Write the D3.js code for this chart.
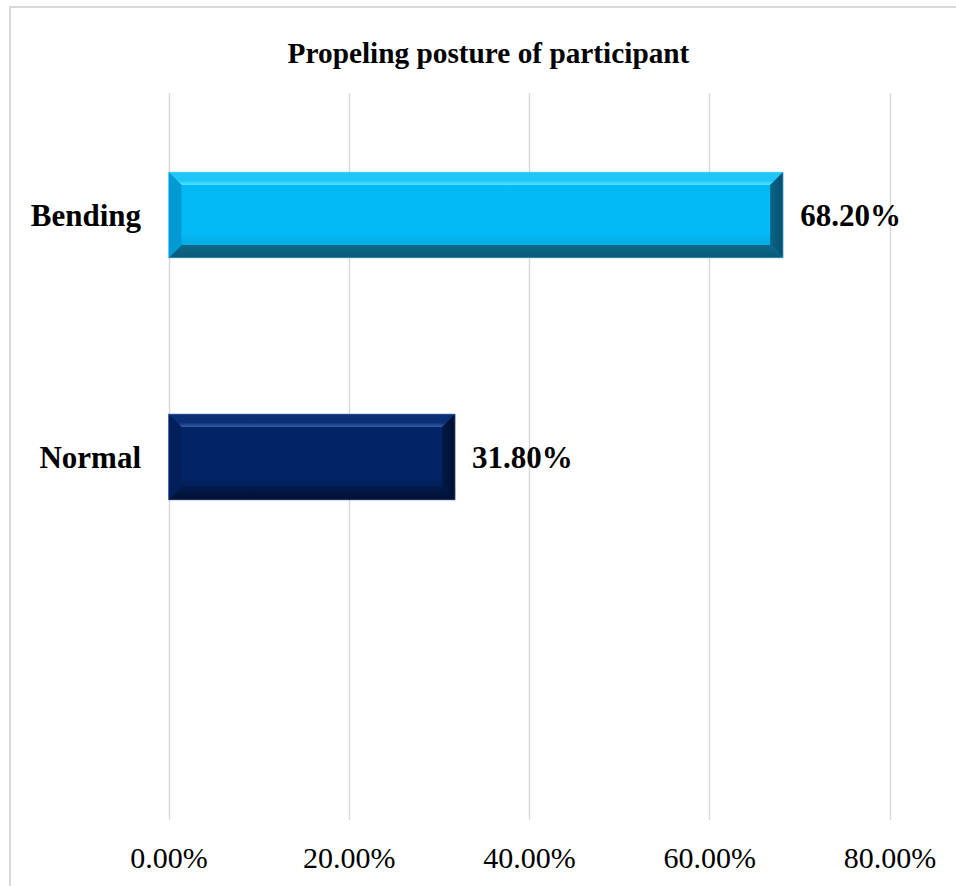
<!DOCTYPE html>
<html>
<head>
<meta charset="utf-8">
<script src="https://cdn.jsdelivr.net/npm/d3@7/dist/d3.min.js"></script>
<style>
  html, body { margin: 0; padding: 0; background: #ffffff; }
  svg { display: block; }
</style>
</head>
<body>
<script>
// Share of participants by propelling posture (percent)
const categories = ["Bending", "Normal", ""];
const values = [68.2, 31.8, null];
const tickValues = [0, 20, 40, 60, 80];
const title = "Propeling posture of participant";

// Bevel palettes per bar
const palettes = [
  { face: "#03b9f6", top: "#1fc5f7", hi: "#52e3ff", left: "#0399d2", bottom: "#0c6a8b", bottomDark: "#0a5878", right: "#0b6587", rightDark: "#094f6e", band: "#05a9e0", outline: "#7fdcff" },
  { face: "#022466", top: "#0b2f75", hi: "#3a5ea6", left: "#021f5c", bottom: "#021a4c", bottomDark: "#01112f", right: "#011a4a", rightDark: "#010e2c", band: "#021e58", outline: "#5f7fbf" }
];

const FONT = "'Liberation Serif', 'Times New Roman', serif";
const W = 956, H = 886;
const svg = d3.select("body").append("svg").attr("width", W).attr("height", H)
  .style("font-family", FONT);
const defs = svg.append("defs");

// chart frame (extends past the right and bottom edges)
svg.append("rect")
  .attr("x", 10).attr("y", 7)
  .attr("width", W + 20).attr("height", H + 20)
  .attr("fill", "none").attr("stroke", "#d9d9d9").attr("stroke-width", 2);

const plot = { left: 168.5, right: 889.5, top: 94, bottom: 820 };

const x = d3.scaleLinear().domain([0, 80]).range([plot.left, plot.right]);
const y = d3.scaleBand().domain(categories).range([plot.top, plot.bottom]).paddingInner(0.645).paddingOuter(0.3225);

// title
svg.append("text")
  .attr("x", 488.5).attr("y", 63)
  .attr("text-anchor", "middle")
  .style("font-family", FONT)
  .attr("font-weight", "bold").attr("font-size", 29.3)
  .attr("fill", "#000").text(title);

// vertical gridlines
svg.append("g").selectAll("line").data(tickValues).join("line")
  .attr("x1", d => Math.round(x(d)) + 0.5).attr("x2", d => Math.round(x(d)) + 0.5)
  .attr("y1", plot.top - 1).attr("y2", plot.bottom)
  .attr("stroke", "#d9d9d9").attr("stroke-width", 1.4);

// bottom axis labels
const xAxis = d3.axisBottom(x).tickValues(tickValues).tickSize(0).tickPadding(0)
  .tickFormat(d => d.toFixed(2) + "%");
const gx = svg.append("g").attr("transform", `translate(0,${plot.bottom})`).call(xAxis)
  .attr("font-family", null);
gx.select(".domain").remove();
gx.selectAll("text")
  .attr("y", 48).attr("dy", null)
  .style("font-family", FONT)
  .attr("font-size", 30).attr("fill", "#000");

// category labels
svg.append("g").selectAll("text").data(categories.filter(c => c !== "")).join("text")
  .attr("x", 141).attr("y", d => y(d) + y.bandwidth() / 2)
  .attr("dy", "0.35em")
  .attr("text-anchor", "end")
  .style("font-family", FONT)
  .attr("font-weight", "bold").attr("font-size", 31).attr("fill", "#000")
  .text(d => d);

// gradients for bevel faces
palettes.forEach((p, i) => {
  const gt = defs.append("linearGradient").attr("id", `top${i}`).attr("x1", 0).attr("y1", 0).attr("x2", 0).attr("y2", 1);
  gt.append("stop").attr("offset", "0%").attr("stop-color", p.top);
  gt.append("stop").attr("offset", "65%").attr("stop-color", p.top);
  gt.append("stop").attr("offset", "100%").attr("stop-color", p.hi);
  const gb = defs.append("linearGradient").attr("id", `bot${i}`).attr("x1", 0).attr("y1", 0).attr("x2", 0).attr("y2", 1);
  gb.append("stop").attr("offset", "0%").attr("stop-color", p.bottom);
  gb.append("stop").attr("offset", "100%").attr("stop-color", p.bottomDark);
  const gr = defs.append("linearGradient").attr("id", `rgt${i}`).attr("x1", 0).attr("y1", 0).attr("x2", 1).attr("y2", 0);
  gr.append("stop").attr("offset", "0%").attr("stop-color", p.right);
  gr.append("stop").attr("offset", "100%").attr("stop-color", p.rightDark);
  const gf = defs.append("linearGradient").attr("id", `face${i}`).attr("x1", 0).attr("y1", 0).attr("x2", 0).attr("y2", 1);
  gf.append("stop").attr("offset", "0%").attr("stop-color", p.face);
  gf.append("stop").attr("offset", "82%").attr("stop-color", p.face);
  gf.append("stop").attr("offset", "100%").attr("stop-color", p.band);
});

// bevelled bars
const bars = categories.map((c, i) => ({ c, v: values[i], i })).filter(d => d.v != null);
const b = 13;
const poly = pts => pts.map(q => q.join(",")).join(" ");
bars.forEach(d => {
  const p = palettes[d.i];
  const x0 = x(0), x1 = x(d.v), y0 = y(d.c), y1 = y(d.c) + y.bandwidth();
  const g = svg.append("g");
  g.append("rect").attr("x", x0).attr("y", y0).attr("width", x1 - x0).attr("height", y1 - y0).attr("fill", p.face);
  g.append("rect").attr("x", x0 + b).attr("y", y0 + b).attr("width", x1 - x0 - 2 * b).attr("height", y1 - y0 - 2 * b).attr("fill", `url(#face${d.i})`);
  g.append("polygon").attr("points", poly([[x0, y0], [x1, y0], [x1 - b, y0 + b], [x0 + b, y0 + b]])).attr("fill", `url(#top${d.i})`);
  g.append("polygon").attr("points", poly([[x0, y1], [x1, y1], [x1 - b, y1 - b], [x0 + b, y1 - b]])).attr("fill", `url(#bot${d.i})`);
  g.append("polygon").attr("points", poly([[x0, y0], [x0 + b, y0 + b], [x0 + b, y1 - b], [x0, y1]])).attr("fill", p.left);
  g.append("polygon").attr("points", poly([[x1, y0], [x1 - b, y0 + b], [x1 - b, y1 - b], [x1, y1]])).attr("fill", `url(#rgt${d.i})`);
  g.append("rect").attr("x", x0).attr("y", y0).attr("width", x1 - x0).attr("height", y1 - y0)
    .attr("fill", "none").attr("stroke", p.outline).attr("stroke-opacity", 0.6).attr("stroke-width", 1);
});

// value labels
svg.append("g").selectAll("text").data(bars).join("text")
  .attr("x", d => x(d.v) + 17)
  .attr("y", d => y(d.c) + y.bandwidth() / 2)
  .attr("dy", "0.35em")
  .style("font-family", FONT)
  .attr("font-weight", "bold").attr("font-size", 31).attr("fill", "#000")
  .text(d => d.v.toFixed(2) + "%");
</script>
</body>
</html>
